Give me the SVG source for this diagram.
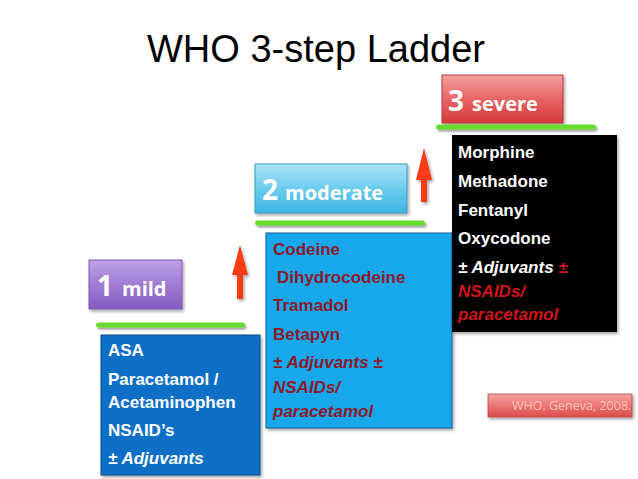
<svg xmlns="http://www.w3.org/2000/svg" width="638" height="479" viewBox="0 0 638 479">
<defs>
<linearGradient id="gPurple" x1="0" y1="0" x2="0" y2="1"><stop offset="0" stop-color="#bea2e6"/><stop offset="0.5" stop-color="#a07cd4"/><stop offset="1" stop-color="#825cc0"/></linearGradient>
<linearGradient id="gCyan" x1="0" y1="0" x2="0" y2="1"><stop offset="0" stop-color="#a8e4f6"/><stop offset="0.5" stop-color="#6cccee"/><stop offset="1" stop-color="#3cb4e2"/></linearGradient>
<linearGradient id="gRed" x1="0" y1="0" x2="0" y2="1"><stop offset="0" stop-color="#f6a0a0"/><stop offset="0.5" stop-color="#e86464"/><stop offset="1" stop-color="#d43a3a"/></linearGradient>
<linearGradient id="gCite" x1="0" y1="0" x2="0" y2="1"><stop offset="0" stop-color="#f5a5a5"/><stop offset="0.5" stop-color="#ec7474"/><stop offset="1" stop-color="#dc4c4c"/></linearGradient>
<filter id="sh" x="-10%" y="-10%" width="130%" height="140%"><feDropShadow dx="1.5" dy="2" stdDeviation="1.5" flood-color="#000" flood-opacity="0.35"/></filter>
<filter id="shl" x="-5%" y="-100%" width="115%" height="400%"><feDropShadow dx="1.5" dy="2" stdDeviation="1.2" flood-color="#000" flood-opacity="0.4"/></filter>
</defs>
<style>
.title{font-family:"Liberation Sans",Arial,sans-serif;font-size:38px;fill:#000}
.num{font-family:"Open Sans",sans-serif;font-weight:bold;font-size:28px;fill:#fff}
.lbl{font-family:"Open Sans",sans-serif;font-weight:bold;font-size:20px;fill:#fff}
.t{font-family:"Liberation Sans",Arial,sans-serif;font-weight:bold;font-size:17px}
.i{font-style:italic}
.w{fill:#fff}
.dr{fill:#8c1a2c}
.rd{fill:#d0141c}
.green{fill:#66dd2e}
.arrow{fill:#ff3b12}
.cite{font-family:"Open Sans",sans-serif;font-size:12.5px;fill:#f9c4b4}
</style>
<rect width="638" height="479" fill="#fff"/>
<text class="title" x="147" y="62" textLength="338" lengthAdjust="spacingAndGlyphs">WHO 3-step Ladder</text>

<g id="step1">
<rect x="89" y="260" width="93" height="49" fill="url(#gPurple)" stroke="#7a5ab0" stroke-width="1" filter="url(#sh)"/>
<text x="97" y="296"><tspan class="num">1</tspan><tspan class="lbl" dx="9">mild</tspan></text>
<rect class="green" x="96" y="322.5" width="149" height="5" rx="2.5" filter="url(#shl)"/>
</g>
<g id="box1">
<rect x="101" y="335" width="159" height="140" fill="#0c6fc6" stroke="#0a4a8a" stroke-width="1" filter="url(#sh)"/>
<text class="t w" x="108" y="356">ASA</text>
<text class="t w" x="108" y="385">Paracetamol /</text>
<text class="t w" x="108" y="408">Acetaminophen</text>
<text class="t w" x="108" y="436">NSAID’s</text>
<text class="t w i" x="108" y="464">± Adjuvants</text>
</g>

<g id="step2">
<rect x="255" y="164" width="152" height="49" fill="url(#gCyan)" stroke="#3a9ac0" stroke-width="1" filter="url(#sh)"/>
<text x="262" y="200"><tspan class="num">2</tspan><tspan class="lbl" dx="7">moderate</tspan></text>
<rect class="green" x="255" y="220.5" width="170" height="5" rx="2.5" filter="url(#shl)"/>
</g>
<g id="box2">
<rect x="266" y="233" width="186" height="195" fill="#14a8ea" stroke="#1a5c8e" stroke-width="1" filter="url(#sh)"/>
<text class="t dr" x="273" y="255">Codeine</text>
<text class="t dr" x="277" y="283">Dihydrocodeine</text>
<text class="t dr" x="273" y="311">Tramadol</text>
<text class="t dr" x="273" y="340">Betapyn</text>
<text class="t dr i" x="273" y="368">± Adjuvants ±</text>
<text class="t dr i" x="273" y="393">NSAIDs/</text>
<text class="t dr i" x="273" y="417">paracetamol</text>
</g>

<g id="step3">
<rect x="442" y="75" width="121" height="48" fill="url(#gRed)" stroke="#b83a3a" stroke-width="1" filter="url(#sh)"/>
<text x="448" y="111"><tspan class="num">3</tspan><tspan class="lbl" dx="8">severe</tspan></text>
<rect class="green" x="436" y="124.5" width="160" height="5" rx="2.5" filter="url(#shl)"/>
</g>
<g id="box3">
<rect x="452" y="135" width="165" height="197" fill="#000" filter="url(#sh)"/>
<text class="t w" x="458" y="158">Morphine</text>
<text class="t w" x="458" y="187">Methadone</text>
<text class="t w" x="458" y="216">Fentanyl</text>
<text class="t w" x="458" y="244">Oxycodone</text>
<text class="t i" x="458" y="273"><tspan class="w">± Adjuvants </tspan><tspan class="rd">±</tspan></text>
<text class="t rd i" x="458" y="297">NSAIDs/</text>
<text class="t rd i" x="458" y="320">paracetamol</text>
</g>

<g id="connectors">
<polygon class="arrow" points="240,245 248,275 243,275 243,299 237,299 237,275 232,275" filter="url(#sh)"/>
<polygon class="arrow" points="424,148 432,180 427,180 427,202 421,202 421,180 416,180" filter="url(#sh)"/>
</g>

<g id="citation">
<rect x="488" y="394" width="144" height="23" fill="url(#gCite)" stroke="#c04848" stroke-width="0.8" filter="url(#sh)"/>
<text class="cite" x="512" y="410">WHO. Geneva, 2008.</text>
</g>
</svg>
